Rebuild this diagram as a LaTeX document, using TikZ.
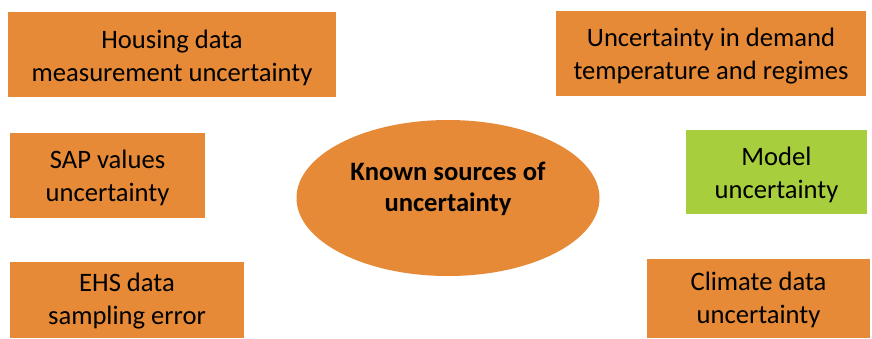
\documentclass[tikz,border=0pt]{standalone}
\usepackage{fontspec}
\setmainfont{Carlito}
\usetikzlibrary{shapes.geometric}
\definecolor{boxorange}{HTML}{E68A37}
\definecolor{boxgreen}{HTML}{A6CE3D}
\tikzset{
  srcbox/.style={rectangle, fill=boxorange, draw=none, inner sep=0pt},
  srctxt/.style={align=center, inner sep=0pt, font=\fontsize{26.6}{33}\selectfont},
  hub/.style={ellipse, fill=boxorange, draw=none, inner sep=0pt},
  hubtxt/.style={font=\bfseries\fontsize{26.6}{31.5}\selectfont, align=center, inner sep=0pt}
}
\begin{document}
\begin{tikzpicture}[x=1pt,y=-1pt]
\useasboundingbox (0,0) rectangle (872,338);
\node[srcbox, minimum width=328pt, minimum height=85pt] (housing) at (172,54.5) {};
\node[srctxt] (housingtxt) at ([yshift=-3pt]housing.center) {Housing data\\measurement uncertainty};
\node[srcbox, minimum width=310pt, minimum height=85pt] (demand) at (711,53.5) {};
\node[srctxt] (demandtxt) at ([yshift=-3pt]demand.center) {Uncertainty in demand\\temperature and regimes};
\node[srcbox, minimum width=195pt, minimum height=85pt] (sap) at (107.5,175.5) {};
\node[srctxt] (saptxt) at ([yshift=-2pt]sap.center) {SAP values\\uncertainty};
\node[srcbox, fill=boxgreen, minimum width=181pt, minimum height=84pt] (model) at (776.5,172) {};
\node[srctxt] (modeltxt) at ([yshift=-3pt]model.center) {Model\\uncertainty};
\node[srcbox, minimum width=234pt, minimum height=76pt] (ehs) at (127,300) {};
\node[srctxt] (ehstxt) at ([yshift=-1pt]ehs.center) {EHS data\\sampling error};
\node[srcbox, minimum width=223pt, minimum height=79pt] (climate) at (758.5,298.5) {};
\node[srctxt] (climatetxt) at ([yshift=-1pt]climate.center) {Climate data\\uncertainty};
\node[hub, minimum width=303pt, minimum height=156pt] (hub) at (448,198) {};
\node[hubtxt] (hubtext) at (448,189) {Known sources of\\uncertainty};
\end{tikzpicture}
\end{document}
